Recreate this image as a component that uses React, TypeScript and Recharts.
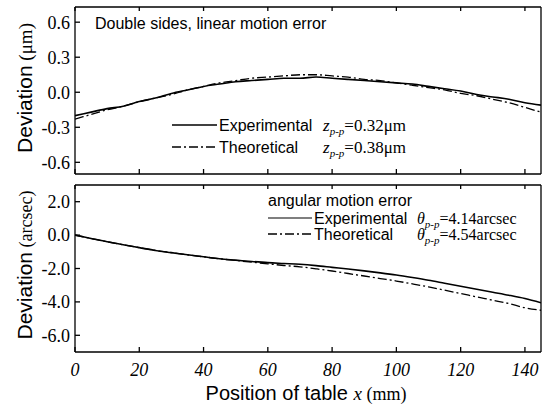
import { LineChart, Line, XAxis, YAxis } from "recharts"

// positions along the table (mm)
const xPos = [0, 5, 10, 15, 20, 25, 30, 35, 40, 45, 50, 55, 60, 65, 70, 75, 80, 85, 90, 95, 100, 105, 110, 115, 120, 125, 130, 135, 140, 145]
// linear motion error (um)
const linExp = [-0.20, -0.17, -0.14, -0.12, -0.08, -0.05, -0.01, 0.02, 0.05, 0.07, 0.09, 0.10, 0.11, 0.12, 0.12, 0.13, 0.12, 0.11, 0.10, 0.09, 0.08, 0.07, 0.05, 0.03, 0.01, -0.02, -0.04, -0.06, -0.09, -0.11]
const linTheo = [-0.23, -0.19, -0.15, -0.12, -0.08, -0.05, -0.02, 0.02, 0.05, 0.08, 0.10, 0.12, 0.13, 0.14, 0.15, 0.15, 0.14, 0.13, 0.11, 0.10, 0.08, 0.06, 0.04, 0.02, -0.01, -0.03, -0.06, -0.09, -0.13, -0.17]
// angular motion error (arcsec)
const angExp = [0.0, -0.2, -0.4, -0.58, -0.75, -0.92, -1.05, -1.18, -1.3, -1.42, -1.5, -1.58, -1.65, -1.7, -1.75, -1.83, -1.93, -2.03, -2.14, -2.26, -2.39, -2.54, -2.7, -2.88, -3.06, -3.24, -3.42, -3.6, -3.8, -4.05]
const angTheo = [0.0, -0.2, -0.4, -0.58, -0.75, -0.92, -1.05, -1.18, -1.3, -1.42, -1.52, -1.62, -1.72, -1.82, -1.9, -2.02, -2.15, -2.3, -2.45, -2.6, -2.75, -2.92, -3.1, -3.3, -3.5, -3.7, -3.9, -4.1, -4.35, -4.5]

const xTicks = [0, 20, 40, 60, 80, 100, 120, 140]
const linTicks = [-0.6, -0.3, 0, 0.3, 0.6]
const angTicks = [-6, -4, -2, 0, 2]

const rows = xPos.map((x, i) => ({ x, linExp: linExp[i], linTheo: linTheo[i], angExp: angExp[i], angTheo: angTheo[i] }))

const SANS = "Liberation Sans, Arial, sans-serif"
const SERIF = "Liberation Serif, Times New Roman, serif"
const blank = () => <g />
const tickFont = { fontFamily: SERIF, fontSize: 18, fill: "#000" }
const ax = { stroke: "#000", strokeWidth: 1.3 }
const DASHDOT = "9 3 2 3"

// axes are 1px wide/high so they still render; margins make up the rest
function Frame({ yDomain, yTicks, showX }: { yDomain: number[]; yTicks: number[]; showX: boolean }) {
    return [
        <XAxis key="xb" xAxisId="b" dataKey="x" type="number" domain={[0, 145]} allowDataOverflow ticks={xTicks}
            height={1} tickSize={-5} tickMargin={16} axisLine={ax} tickLine={ax}
            tick={showX ? { ...tickFont, fontStyle: "italic" } : blank} />,
        <XAxis key="xt" xAxisId="t" orientation="top" dataKey="x" type="number" domain={[0, 145]} allowDataOverflow
            ticks={xTicks} height={1} tickSize={-4} axisLine={ax} tickLine={ax} tick={blank} />,
        <YAxis key="yl" yAxisId="l" type="number" domain={yDomain} allowDataOverflow ticks={yTicks} width={1}
            tickSize={-5} tickMargin={10} axisLine={ax} tickLine={ax} tick={tickFont}
            tickFormatter={(v: number) => v.toFixed(1)} />,
        <YAxis key="yr" yAxisId="r" orientation="right" type="number" domain={yDomain} allowDataOverflow width={1}
            axisLine={ax} tickLine={false} tick={blank} />,
    ]
}

export default function App() {
    return (
        <div style={{ position: "absolute", left: 0, top: 0, width: 550, height: 411, background: "#fff" }}>
            <div style={{ position: "absolute", left: 0, top: 0 }}>
                <LineChart width={550} height={180} data={rows} margin={{ top: 6, right: 8, bottom: 5, left: 74 }}>
                    {Frame({ yDomain: [-0.7, 0.73], yTicks: linTicks, showX: false })}
                    <Line xAxisId="b" yAxisId="l" dataKey="linExp" type="monotone" stroke="#000" strokeWidth={1.6} dot={false} isAnimationActive={false} />
                    <Line xAxisId="b" yAxisId="l" dataKey="linTheo" type="monotone" stroke="#000" strokeWidth={1.3} strokeDasharray={DASHDOT} dot={false} isAnimationActive={false} />
                </LineChart>
            </div>
            <div style={{ position: "absolute", left: 0, top: 184 }}>
                <LineChart width={550} height={227} data={rows} margin={{ top: 0, right: 8, bottom: 58, left: 74 }}>
                    {Frame({ yDomain: [-7, 3], yTicks: angTicks, showX: true })}
                    <Line xAxisId="b" yAxisId="l" dataKey="angExp" type="monotone" stroke="#000" strokeWidth={1.6} dot={false} isAnimationActive={false} />
                    <Line xAxisId="b" yAxisId="l" dataKey="angTheo" type="monotone" stroke="#000" strokeWidth={1.3} strokeDasharray={DASHDOT} dot={false} isAnimationActive={false} />
                </LineChart>
            </div>
            <svg width={550} height={411} style={{ position: "absolute", left: 0, top: 0, pointerEvents: "none" }}>
                <g fill="#000">
                    <text transform="translate(32,88) rotate(-90)" textAnchor="middle">
                        <tspan fontFamily={SANS} fontSize={21}>Deviation</tspan>
                        <tspan fontFamily={SERIF} fontSize={19}>{"  (μm)"}</tspan>
                    </text>
                    <text transform="translate(32,265) rotate(-90)" textAnchor="middle">
                        <tspan fontFamily={SANS} fontSize={21}>Deviation</tspan>
                        <tspan fontFamily={SERIF} fontSize={18}>{"  (arcsec)"}</tspan>
                    </text>
                    <text x={306} y={400} textAnchor="middle">
                        <tspan fontFamily={SANS} fontSize={20}>Position of table </tspan>
                        <tspan fontFamily={SERIF} fontSize={19} fontStyle="italic"> x</tspan>
                        <tspan fontFamily={SERIF} fontSize={18}>{"  (mm)"}</tspan>
                    </text>

                    <text x={95} y={29} fontFamily={SANS} fontSize={16}>Double sides, linear motion error</text>

                    <line x1={172} x2={217} y1={125} y2={125} stroke="#000" strokeWidth={1.4} />
                    <text x={219} y={131} fontFamily={SANS} fontSize={16}>Experimental</text>
                    <text x={323} y={131} fontFamily={SERIF} fontSize={17}>
                        <tspan fontStyle="italic">z</tspan>
                        <tspan fontStyle="italic" fontSize={11} dy={4}>p-p</tspan>
                        <tspan dy={-4}>=0.32μm</tspan>
                    </text>
                    <line x1={172} x2={217} y1={147} y2={147} stroke="#000" strokeWidth={1.3} strokeDasharray={DASHDOT} />
                    <text x={219} y={153} fontFamily={SANS} fontSize={16}>Theoretical</text>
                    <text x={323} y={153} fontFamily={SERIF} fontSize={17}>
                        <tspan fontStyle="italic">z</tspan>
                        <tspan fontStyle="italic" fontSize={11} dy={4}>p-p</tspan>
                        <tspan dy={-4}>=0.38μm</tspan>
                    </text>

                    <text x={268} y={206} fontFamily={SANS} fontSize={16}>angular motion error</text>
                    <line x1={268} x2={312} y1={218} y2={218} stroke="#000" strokeWidth={1.2} />
                    <text x={314} y={224} fontFamily={SANS} fontSize={16}>Experimental</text>
                    <text x={417} y={224} fontFamily={SERIF} fontSize={16}>
                        <tspan fontStyle="italic">θ</tspan>
                        <tspan fontStyle="italic" fontSize={11} dy={4}>p-p</tspan>
                        <tspan dy={-4}>=4.14arcsec</tspan>
                    </text>
                    <line x1={268} x2={312} y1={234} y2={234} stroke="#000" strokeWidth={1.3} strokeDasharray={DASHDOT} />
                    <text x={314} y={240} fontFamily={SANS} fontSize={16}>Theoretical</text>
                    <text x={417} y={240} fontFamily={SERIF} fontSize={16}>
                        <tspan fontStyle="italic">θ</tspan>
                        <tspan fontStyle="italic" fontSize={11} dy={4}>p-p</tspan>
                        <tspan dy={-4}>=4.54arcsec</tspan>
                    </text>
                </g>
            </svg>
        </div>
    )
}
